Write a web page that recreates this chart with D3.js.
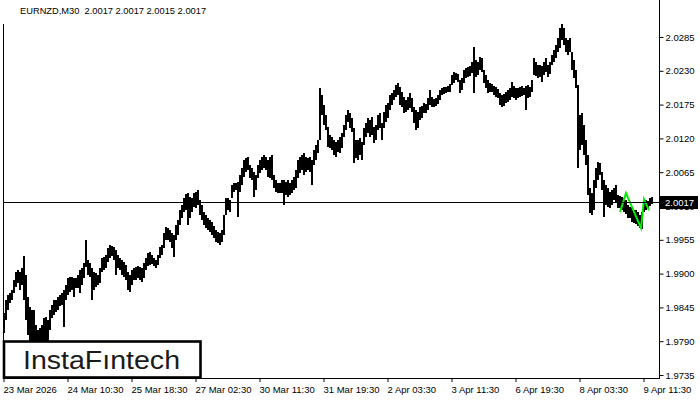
<!DOCTYPE html>
<html>
<head>
<meta charset="utf-8">
<script src="https://cdn.jsdelivr.net/npm/d3@7"></script>
<style>
  html, body { margin: 0; padding: 0; background: #fff; }
  svg { display: block; }
  text { font-family: "Liberation Sans", Arial, sans-serif; }
</style>
</head>
<body>
<svg id="chart" width="700" height="400"></svg>
<script>
// ---------- data (EURNZD, one entry per hour of M30 bars) ----------
const symbolTitle = "EURNZD,M30  2.0017 2.0017 2.0015 2.0017";
const lastPrice = 2.0017;

const highs = [
1.9836,1.9857,1.9865,1.9868,1.9873,1.9889,1.9903,1.9906,1.9903,1.9909,1.9929,1.9898,1.9862,1.9846,1.9841,1.9841,1.9816,1.9808,1.9811,1.9816,
1.9828,1.9829,1.9824,1.9841,1.9849,1.9857,1.9857,1.9862,1.9865,1.9868,1.9873,1.9881,1.9893,1.9894,1.9894,1.9893,1.9893,1.9898,1.9906,1.9909,
1.9917,1.9955,1.9922,1.9917,1.9909,1.9903,1.9901,1.9898,1.9909,1.9925,1.9927,1.9930,1.9942,1.9946,1.9945,1.9943,1.9938,1.9930,1.9925,1.9922,
1.9919,1.9914,1.9903,1.9898,1.9906,1.9909,
1.9911,1.9912,1.9911,1.9909,1.9917,1.9925,1.9933,1.9935,1.9930,1.9925,1.9922,1.9930,1.9943,1.9946,1.9966,1.9976,1.9974,1.9971,1.9966,1.9963,
1.9979,1.9987,2.0003,2.0012,2.0023,2.0029,2.0031,2.0025,2.0023,2.0031,2.0033,2.0036,2.0020,2.0012,2.0000,1.9995,1.9990,1.9987,1.9984,1.9977,
1.9971,1.9968,1.9966,1.9971,1.9995,2.0023,2.0023,2.0020,2.0044,2.0047,2.0047,2.0049,2.0060,2.0072,2.0085,2.0088,2.0090,2.0077,2.0072,2.0065,
2.0060,2.0077,2.0085,2.0090,2.0093,
2.0090,2.0085,2.0090,2.0093,2.0060,2.0052,2.0047,2.0047,2.0052,2.0052,2.0049,2.0052,2.0047,2.0052,2.0057,2.0068,2.0085,2.0090,2.0093,2.0096,
2.0090,2.0088,2.0090,2.0085,2.0101,2.0109,2.0117,2.0202,2.0190,2.0174,2.0158,2.0138,2.0125,2.0122,2.0117,2.0114,2.0117,2.0122,2.0129,2.0142,
2.0158,2.0166,2.0161,2.0153,2.0137,2.0117,2.0117,2.0121,2.0114,2.0137,2.0145,2.0153,2.0150,2.0155,2.0138,2.0142,2.0158,2.0161,2.0145,2.0163,
2.0174,2.0177,2.0190,2.0194,2.0199,
2.0207,2.0210,2.0204,2.0195,2.0187,2.0182,2.0187,2.0194,2.0186,2.0171,2.0166,2.0163,2.0171,2.0173,2.0177,2.0176,2.0186,2.0199,2.0187,2.0184,
2.0186,2.0190,2.0199,2.0202,2.0204,2.0204,2.0205,2.0208,2.0223,2.0228,2.0226,2.0225,2.0215,2.0218,2.0231,2.0234,2.0236,2.0238,2.0244,2.0269,
2.0247,2.0244,2.0252,2.0251,2.0231,2.0223,2.0215,2.0210,2.0208,2.0205,2.0204,2.0200,2.0194,2.0190,2.0192,2.0195,2.0199,2.0202,2.0212,2.0205,
2.0202,2.0202,2.0204,2.0205,
2.0202,2.0205,2.0207,2.0204,2.0215,2.0251,2.0244,2.0239,2.0239,2.0238,2.0244,2.0251,2.0239,2.0244,2.0256,2.0264,2.0272,2.0283,2.0299,2.0306,
2.0299,2.0283,2.0280,2.0283,2.0260,2.0247,2.0231,2.0207,2.0158,2.0161,2.0142,2.0117,2.0093,2.0039,2.0031,2.0052,2.0072,2.0081,2.0080,2.0065,
2.0052,2.0044,2.0039,2.0033,2.0036,2.0039,2.0044,2.0028,2.0026,2.0025,2.0023,2.0020,2.0012,2.0008,2.0008,2.0003,2.0003,2.0000,1.9995,2.0000,
2.0016,2.0020,2.0018,2.0023,2.0025
];

const lows = [
1.9803,1.9824,1.9841,1.9852,1.9857,1.9868,1.9878,1.9885,1.9873,1.9881,1.9857,1.9824,1.9800,1.9784,1.9767,1.9759,1.9751,1.9746,1.9751,1.9756,
1.9776,1.9767,1.9776,1.9808,1.9828,1.9833,1.9837,1.9841,1.9847,1.9849,1.9813,1.9857,1.9865,1.9870,1.9873,1.9862,1.9876,1.9876,1.9868,1.9881,
1.9893,1.9911,1.9898,1.9894,1.9857,1.9873,1.9878,1.9881,1.9885,1.9903,1.9906,1.9909,1.9919,1.9925,1.9929,1.9922,1.9898,1.9909,1.9906,1.9898,
1.9894,1.9889,1.9873,1.9870,1.9881,1.9889,
1.9889,1.9893,1.9889,1.9886,1.9893,1.9906,1.9912,1.9914,1.9916,1.9912,1.9909,1.9914,1.9925,1.9930,1.9942,1.9955,1.9955,1.9951,1.9942,1.9927,
1.9955,1.9963,1.9979,1.9990,2.0000,2.0003,1.9979,1.9990,2.0000,2.0008,2.0007,2.0012,1.9995,1.9987,1.9979,1.9974,1.9971,1.9968,1.9963,1.9958,
1.9951,1.9950,1.9946,1.9951,1.9963,1.9995,2.0003,2.0000,2.0023,2.0033,2.0036,1.9992,2.0033,2.0044,2.0057,2.0065,2.0068,2.0055,2.0052,2.0025,
2.0036,2.0055,2.0064,2.0068,2.0072,
2.0068,2.0057,2.0055,2.0052,2.0039,2.0033,2.0031,2.0031,2.0031,2.0012,2.0028,2.0025,2.0028,2.0031,2.0036,2.0039,2.0055,2.0064,2.0068,2.0060,
2.0065,2.0068,2.0065,2.0044,2.0077,2.0085,2.0096,2.0117,2.0158,2.0142,2.0134,2.0106,2.0104,2.0101,2.0093,2.0090,2.0098,2.0096,2.0104,2.0122,
2.0134,2.0147,2.0137,2.0130,2.0080,2.0088,2.0085,2.0093,2.0085,2.0109,2.0122,2.0129,2.0122,2.0125,2.0112,2.0117,2.0134,2.0137,2.0117,2.0137,
2.0147,2.0153,2.0166,2.0174,2.0182,
2.0187,2.0190,2.0174,2.0171,2.0161,2.0163,2.0166,2.0169,2.0163,2.0145,2.0134,2.0137,2.0150,2.0153,2.0161,2.0161,2.0166,2.0174,2.0171,2.0171,
2.0173,2.0176,2.0182,2.0190,2.0192,2.0194,2.0195,2.0195,2.0207,2.0210,2.0215,2.0212,2.0194,2.0199,2.0210,2.0218,2.0220,2.0221,2.0226,2.0194,
2.0220,2.0223,2.0231,2.0228,2.0210,2.0202,2.0194,2.0195,2.0195,2.0190,2.0187,2.0186,2.0174,2.0171,2.0173,2.0177,2.0179,2.0182,2.0187,2.0186,
2.0182,2.0186,2.0187,2.0189,
2.0190,2.0166,2.0186,2.0187,2.0195,2.0223,2.0221,2.0218,2.0220,2.0212,2.0223,2.0228,2.0220,2.0225,2.0239,2.0244,2.0251,2.0260,2.0267,2.0280,
2.0272,2.0260,2.0256,2.0260,2.0231,2.0218,2.0202,2.0072,2.0101,2.0109,2.0093,2.0077,2.0028,1.9998,1.9995,2.0003,2.0039,2.0052,2.0060,2.0036,
1.9992,2.0012,2.0008,2.0007,2.0012,2.0020,2.0015,2.0007,2.0007,2.0003,2.0000,1.9997,1.9990,1.9990,1.9984,1.9982,1.9981,1.9977,1.9974,1.9972,
2.0000,2.0003,2.0007,2.0010,2.0013
];

const xTickIndex = [0, 32, 64, 96, 128, 160, 192, 224, 256, 288, 320];
const xTickLabels = ["23 Mar 2026", "24 Mar 10:30", "25 Mar 18:30", "27 Mar 02:30", "30 Mar 11:30",
  "31 Mar 19:30", "2 Apr 03:30", "3 Apr 11:30", "6 Apr 19:30", "8 Apr 03:30", "9 Apr 11:30"];
const yTickLabels = ["1.9735", "1.9790", "1.9845", "1.9900", "1.9955", "2.0010",
  "2.0065", "2.0120", "2.0175", "2.0230", "2.0285"];

const patternIndex = [308.5, 311.5, 319, 320.5, 323];
const patternPrice = [2.0000, 2.0031, 1.9974, 2.0021, 2.0003];

const brandName = "InstaF\u0131ntech";

// ---------- drawing ----------
const svg = d3.select("#chart");
const plotLeft = 3, plotRight = 659, plotBottom = 378;

const x = d3.scaleLinear().domain([0, highs.length]).range([3, 3 + 2 * highs.length]);
const y = d3.scaleLinear().domain([1.9735, 2.0285]).range([375, 37]);

// bars
svg.append("g").attr("shape-rendering", "crispEdges")
  .selectAll("rect").data(highs).join("rect")
  .attr("x", (d, i) => x(i))
  .attr("width", 2)
  .attr("y", d => Math.round(y(d)))
  .attr("height", (d, i) => Math.max(1, Math.round(y(lows[i])) - Math.round(y(d))))
  .attr("fill", "#000");

// pattern
svg.append("path")
  .datum(patternIndex.map((v, i) => [v, patternPrice[i]]))
  .attr("d", d3.line().x(d => x(d[0])).y(d => y(d[1])))
  .attr("fill", "none").attr("stroke", "#00ee00").attr("stroke-width", 2);

// current price line
svg.append("line")
  .attr("x1", plotLeft).attr("x2", plotRight)
  .attr("y1", Math.round(y(lastPrice)) + 0.5).attr("y2", Math.round(y(lastPrice)) + 0.5)
  .attr("stroke", "#000").attr("stroke-width", 1);

// frame lines
svg.append("line").attr("x1", plotLeft + 0.5).attr("x2", plotLeft + 0.5).attr("y1", 24).attr("y2", plotBottom)
  .attr("stroke", "#000");
svg.append("line").attr("x1", plotRight + 0.5).attr("x2", plotRight + 0.5).attr("y1", 0).attr("y2", plotBottom + 1)
  .attr("stroke", "#000");
svg.append("line").attr("x1", plotLeft).attr("x2", plotRight + 1).attr("y1", plotBottom + 0.5).attr("y2", plotBottom + 0.5)
  .attr("stroke", "#000");

// y axis
const yAxis = d3.axisRight(y)
  .tickValues(yTickLabels.map(Number))
  .tickFormat((d, i) => yTickLabels[i])
  .tickSize(4).tickSizeOuter(0).tickPadding(2);
const gy = svg.append("g").attr("transform", `translate(${plotRight + 0.5},0)`).call(yAxis);
gy.select(".domain").remove();
gy.selectAll("line").attr("stroke", "#000");
gy.selectAll("text").attr("font-size", 9.5).attr("fill", "#000")
  .attr("font-family", "'Liberation Sans', Arial, sans-serif");

// x axis
const xAxis = d3.axisBottom(x)
  .tickValues(xTickIndex)
  .tickFormat((d, i) => xTickLabels[i])
  .tickSize(4).tickSizeOuter(0).tickPadding(4);
const gx = svg.append("g").attr("transform", `translate(0.5,${plotBottom})`).call(xAxis);
gx.select(".domain").remove();
gx.selectAll("line").attr("stroke", "#000");
gx.selectAll("text").attr("font-size", 9.5).attr("fill", "#000")
  .attr("text-anchor", "start").attr("x", -0.5)
  .attr("font-family", "'Liberation Sans', Arial, sans-serif");

// current price label
const py = y(lastPrice);
svg.append("rect").attr("x", 660).attr("y", Math.round(py) - 6).attr("width", 38).attr("height", 13).attr("fill", "#000");
svg.append("text").attr("x", 665).attr("y", Math.round(py) + 4)
  .attr("font-size", 9.5).attr("fill", "#fff").text(lastPrice.toFixed(4));

// title
svg.append("text").attr("x", 20).attr("y", 14).attr("font-size", 9.3)
  .style("white-space", "pre").attr("fill", "#000").text(symbolTitle);

// brand box
svg.append("rect").attr("x", 4).attr("y", 341.5).attr("width", 196.5).attr("height", 36)
  .attr("fill", "#fff").attr("stroke", "#000").attr("stroke-width", 2.6);
svg.append("text").attr("x", 23).attr("y", 368.5)
  .attr("font-family", "Inter, Lato, sans-serif").attr("font-weight", 500)
  .attr("font-size", 25).attr("fill", "#1a1a1a")
  .attr("textLength", 157).attr("lengthAdjust", "spacingAndGlyphs")
  .text(brandName);
</script>
</body>
</html>
